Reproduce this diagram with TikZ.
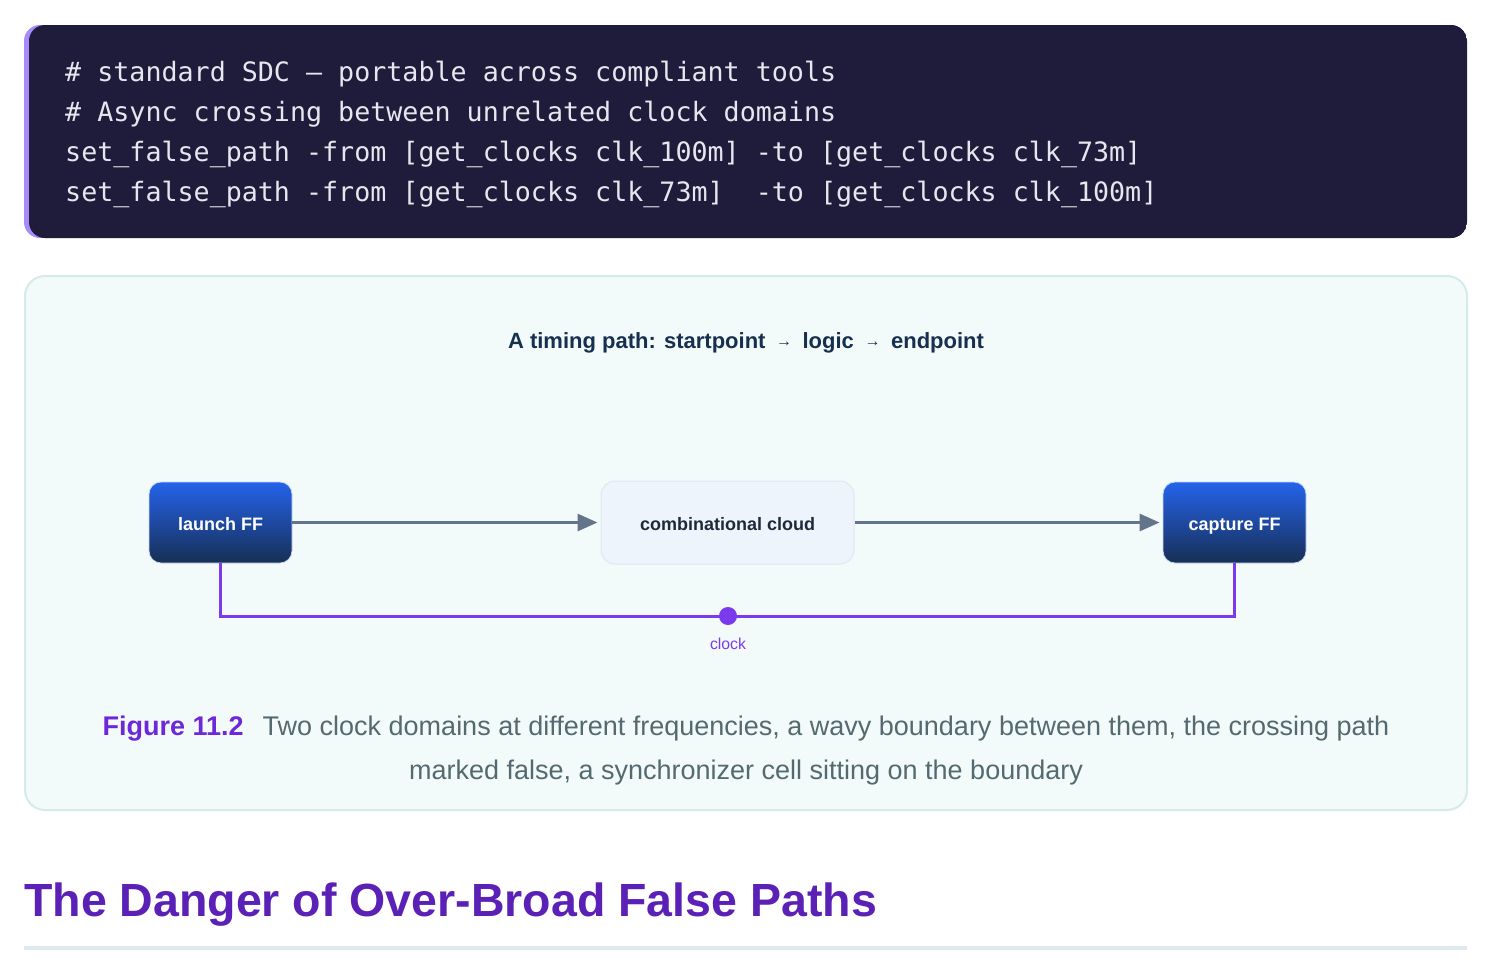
\documentclass[tikz,border=0pt]{standalone}
\usepackage{fontspec}
\setmainfont{Liberation Sans}
\setmonofont{DejaVu Sans Mono}
\newfontfamily\djv{DejaVu Sans}
\usetikzlibrary{arrows.meta}
\definecolor{codebg}{HTML}{1F1C3B}
\definecolor{accent}{HTML}{A78BFA}
\definecolor{codefg}{HTML}{E6E6EE}
\definecolor{figbg}{HTML}{F3FBFA}
\definecolor{figborder}{HTML}{D5EAEA}
\definecolor{navy}{HTML}{17304F}
\definecolor{fftop}{HTML}{2563EB}
\definecolor{ffbot}{HTML}{172F55}
\definecolor{cloudbg}{HTML}{EEF4FB}
\definecolor{cloudborder}{HTML}{E0E7EF}
\definecolor{cloudfg}{HTML}{1E293B}
\definecolor{edgegray}{HTML}{64748B}
\definecolor{clkpurple}{HTML}{7C3AED}
\definecolor{figpurple}{HTML}{6D28D9}
\definecolor{capgray}{HTML}{546A70}
\definecolor{headpurple}{HTML}{5B21B6}
\definecolor{rulecol}{HTML}{DCE9EE}
\newcommand{\tarrow}{\ {\djv\normalfont\fontsize{16}{18}\selectfont\ \raisebox{1.5pt}{→}\ }\ }
\tikzset{
  x=1pt,y=1pt,
  codeline/.style={anchor=base west,inner sep=0pt,text=codefg,font=\ttfamily\fontsize{26.68}{30}\selectfont},
  ffbox/.style={rounded corners=12pt,minimum width=143pt,minimum height=81pt,inner sep=0pt,
    top color=fftop,bottom color=ffbot,draw=white!75!fftop,line width=0.8pt,
    text=white,font=\bfseries\fontsize{18}{21}\selectfont,text height=17pt,text depth=1pt},
  cloudbox/.style={rounded corners=14pt,minimum width=253pt,minimum height=83pt,inner sep=0pt,
    fill=cloudbg,draw=cloudborder,line width=1pt,text=cloudfg,font=\bfseries\fontsize{18}{21}\selectfont,
    text height=17pt,text depth=1pt},
  flow/.style={draw=edgegray,line width=3pt,-{Triangle[length=20pt,width=17pt]},shorten >=3pt},
  clkline/.style={draw=clkpurple,line width=3pt},
  captext/.style={anchor=base,inner sep=0pt,text=capgray,font=\fontsize{27}{30}\selectfont},
}
\begin{document}
\begin{tikzpicture}
\useasboundingbox (0,0) rectangle (1494,-978);
\fill[white] (0,0) rectangle (1494,-978);
% code block
\begin{scope}
\clip[rounded corners=16pt] (24,-25) rectangle (1467,-238);
\fill[accent] (24,-25) rectangle (1467,-238);
\fill[codebg,rounded corners=16pt] (29,-25) rectangle (1467,-238);
\end{scope}
\node[codeline] (c1) at (65,-81) {\#\ standard\ SDC\ —\ portable\ across\ compliant\ tools};
\node[codeline] (c2) at (65,-121) {\#\ Async\ crossing\ between\ unrelated\ clock\ domains};
\node[codeline] (c3) at (65,-161) {set\_false\_path\ -from\ [get\_clocks\ clk\_100m]\ -to\ [get\_clocks\ clk\_73m]};
\node[codeline] (c4) at (65,-201) {set\_false\_path\ -from\ [get\_clocks\ clk\_73m]\ \ -to\ [get\_clocks\ clk\_100m]};
% figure box
\draw[fill=figbg,draw=figborder,line width=2pt,rounded corners=20pt] (25,-276) rectangle (1467,-810);
\node[anchor=base,inner sep=0pt,text=navy,font=\bfseries\fontsize{22}{26}\selectfont] (title) at (746,-348)
  {A timing path: startpoint\tarrow logic\tarrow endpoint};
% nodes
\node[ffbox] (launch) at (220.5,-522.5) {launch FF};
\node[cloudbox] (cloud) at (727.5,-522.5) {combinational cloud};
\node[ffbox] (capture) at (1234.5,-522.5) {capture FF};
\draw[flow] (launch.east) -- (cloud.west);
\draw[flow] (cloud.east) -- (capture.west);
\coordinate (clk) at (728,-616);
\draw[clkline] (launch.south) |- (clk) -| (capture.south);
\fill[clkpurple] (clk) circle (9pt);
\node[anchor=base,inner sep=0pt,text=clkpurple,font=\fontsize{15.8}{18}\selectfont] (clklabel) at (728,-649) {clock};
% caption
\node[captext] (cap1) at (746,-735)
  {{\color{figpurple}\bfseries Figure 11.2}\hspace{19pt}Two clock domains at different frequencies, a wavy boundary between them, the crossing path};
\node[captext] (cap2) at (746,-779)
  {marked false, a synchronizer cell sitting on the boundary};
% heading
\node[anchor=base west,inner sep=0pt,text=headpurple,font=\bfseries\fontsize{46.5}{52}\selectfont] (head) at (24,-916)
  {The Danger of Over-Broad False Paths};
\fill[rulecol] (24,-946) rectangle (1467,-950);
\end{tikzpicture}
\end{document}
